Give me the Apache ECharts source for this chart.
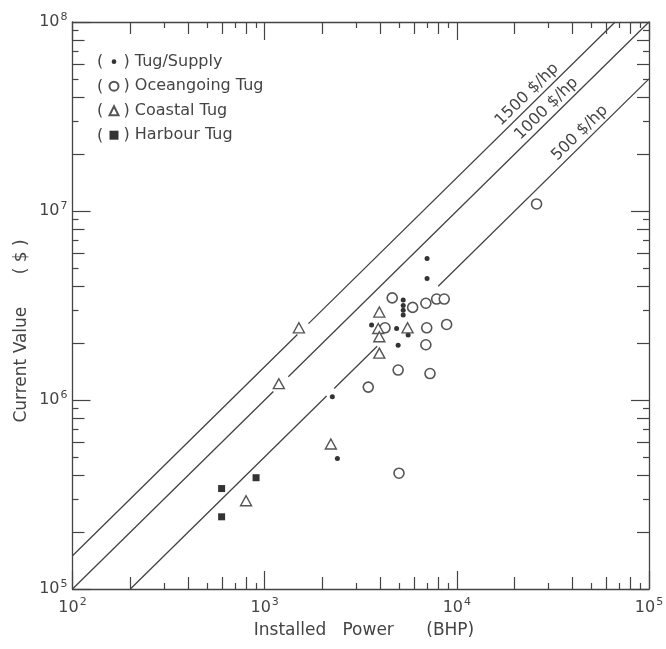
<!DOCTYPE html>
<html><head><meta charset="utf-8">
<script src="https://cdn.jsdelivr.net/npm/echarts@6/dist/echarts.min.js"></script>
<style>html,body{margin:0;padding:0;background:#fff}#c{width:666px;height:649px}</style>
</head><body><div id="c"></div>
<script>
// ---- data (Installed power BHP, Current value $) ----
const tugSupply = [[7000,5.6e6],[7000,4.4e6],[5260,3.38e6],[5260,3.16e6],[5260,2.98e6],[5260,2.82e6],[3600,2.49e6],[4860,2.39e6],[5580,2.21e6],[4950,1.95e6],[2250,1.04e6],[2390,4.9e5]];
const oceangoingTug = [[4610,3.47e6],[5890,3.09e6],[6900,3.25e6],[7850,3.42e6],[8600,3.42e6],[4230,2.41e6],[6970,2.41e6],[8850,2.51e6],[6900,1.96e6],[4950,1.44e6],[7250,1.38e6],[3460,1.17e6],[5000,4.1e5],[26000,1.09e7]];
const coastalTug = [[1507,2.41e6],[1185,1.22e6],[3950,2.92e6],[3900,2.39e6],[5540,2.41e6],[3950,2.16e6],[3950,1.77e6],[2210,5.85e5],[800,2.93e5]];
const harbourTug = [[902,3.88e5],[597,3.4e5],[597,2.41e5]];
const seriesNames = ['Tug/Supply','Oceangoing Tug','Coastal Tug','Harbour Tug'];
// reference lines ($/hp)
const rates = [1500,1000,500];
const rateLabels = ['1500 $/hp','1000 $/hp','500 $/hp'];
const rateLabelX = [23200,29300,43600];
const rateGaps = [[[1480,1690]],[[1110,1327]],[[2100,2300],[3850,8000]]];
// axis ticks
const xMin = 100, xMax = 100000, yMin = 1e5, yMax = 1e8;
const xMajor = [100,1000,10000,100000];
const xEven = [200,400,600,800,2000,4000,6000,8000,20000,40000,60000,80000];
const xOdd = [300,500,700,900,3000,5000,7000,9000,30000,50000,70000,90000];
const yMajor = [1e5,1e6,1e7,1e8];
const yEven = [2e5,4e5,6e5,8e5,2e6,4e6,6e6,8e6,2e7,4e7,6e7,8e7];
const yOdd = [3e5,5e5,7e5,9e5,3e6,5e6,7e6,9e6,3e7,5e7,7e7,9e7];

const FONT = 'DejaVu Sans';
const INK = '#444';
const supDigits = v => '{b|10}{s|' + Math.round(Math.log10(v)) + '}';

function mkAxis(dim, position, ticks, len, main, withLabels) {
  const isX = dim === 'x';
  return {
    type: 'log', logBase: 10, position: position,
    min: isX ? xMin : yMin, max: isX ? xMax : yMax,
    axisLine: { show: main, onZero: false, lineStyle: { color: INK, width: 1.3 } },
    axisTick: { show: true, inside: true, length: len, customValues: ticks, lineStyle: { color: INK, width: 1.2 } },
    axisLabel: withLabels ? {
      show: true, customValues: ticks, margin: isX ? 8 : 5,
      formatter: supDigits,
      rich: {
        b: { fontFamily: FONT, fontSize: 16, color: INK },
        s: { fontFamily: FONT, fontSize: 11, color: INK, padding: [0, 0, 10, 1] }
      }
    } : { show: false },
    splitLine: { show: false }, minorTick: { show: false }
  };
}

function rateLine(i) {
  const r = rates[i];
  const x0 = Math.max(xMin, yMin / r), x1 = Math.min(xMax, yMax / r);
  const pts = [[x0, r * x0]];
  rateGaps[i].forEach(g => { pts.push([g[0], r * g[0]]); pts.push([g[0], '-']); pts.push([g[1], r * g[1]]); });
  pts.push([x1, r * x1]);
  return {
    type: 'line', name: rateLabels[i], data: pts, showSymbol: false, symbol: 'none',
    connectNulls: false, silent: true, z: 1,
    lineStyle: { color: INK, width: 1.3 }
  };
}

const chart = echarts.init(document.getElementById('c'), null, { renderer: 'canvas' });
const option = {
  animation: false,
  backgroundColor: '#fff',
  textStyle: { fontFamily: FONT },
  grid: { left: 72.5, right: 17, top: 22, bottom: 60, outerBoundsMode: 'none' },
  xAxis: [
    mkAxis('x', 'bottom', xMajor, 18, true, true),
    mkAxis('x', 'bottom', xEven, 12, false, false),
    mkAxis('x', 'bottom', xOdd, 6, false, false),
    mkAxis('x', 'top', xMajor, 18, true, false),
    mkAxis('x', 'top', xEven, 12, false, false),
    mkAxis('x', 'top', xOdd, 6, false, false)
  ],
  yAxis: [
    mkAxis('y', 'left', yMajor, 18, true, true),
    mkAxis('y', 'left', yEven, 12, false, false),
    mkAxis('y', 'left', yOdd, 6, false, false),
    mkAxis('y', 'right', yMajor, 18, true, false),
    mkAxis('y', 'right', yEven, 12, false, false),
    mkAxis('y', 'right', yOdd, 6, false, false)
  ],
  legend: {
    data: [
      { name: seriesNames[0], icon: 'path://M0,0M10,10M7.6,5A2.6,2.6,0,1,1,2.4,5A2.6,2.6,0,1,1,7.6,5Z' },
      { name: seriesNames[1] }, { name: seriesNames[2] }, { name: seriesNames[3] }
    ],
    orient: 'vertical', left: 108.5, top: 53.7, padding: 0,
    itemWidth: 9, itemHeight: 9, itemGap: 8.5,
    textStyle: { fontFamily: FONT, fontSize: 16, color: INK, lineHeight: 16 },
    formatter: n => ') ' + n,
    selectedMode: false
  },
  series: [
    rateLine(0), rateLine(1), rateLine(2),
    { type: 'scatter', name: seriesNames[0], data: tugSupply, symbol: 'circle', symbolSize: 5, z: 3,
      itemStyle: { color: '#333', opacity: 1 } },
    { type: 'scatter', name: seriesNames[1], data: oceangoingTug, symbol: 'circle', symbolSize: 10, z: 3,
      itemStyle: { color: '#fff', borderColor: '#555', borderWidth: 1.6, opacity: 1 } },
    { type: 'scatter', name: seriesNames[2], data: coastalTug, symbol: 'triangle', symbolSize: [11, 10], z: 3,
      itemStyle: { color: '#fff', borderColor: '#555', borderWidth: 1.4, opacity: 1 } },
    { type: 'scatter', name: seriesNames[3], data: harbourTug, symbol: 'rect', symbolSize: 7, z: 3,
      itemStyle: { color: '#333', opacity: 1 } }
  ]
};
chart.setOption(option);

// text annotations placed through the chart's own coordinate system
const graphics = [];
rates.forEach((r, i) => {
  const p = chart.convertToPixel({ xAxisIndex: 0, yAxisIndex: 0 }, [rateLabelX[i], r * rateLabelX[i]]);
  graphics.push({ type: 'text', x: p[0], y: p[1] - 14, rotation: 44.5 * Math.PI / 180, z: 10,
    style: { text: rateLabels[i], fontFamily: FONT, fontSize: 16, fill: INK,
      align: 'center', verticalAlign: 'middle', textAlign: 'center', textVerticalAlign: 'middle' } });
});
[62, 86.5, 111, 135.5].forEach(y => {
  graphics.push({ type: 'text', x: 97, y: y, z: 10,
    style: { text: '(', fontFamily: FONT, fontSize: 16, fill: INK, align: 'left', verticalAlign: 'middle', textVerticalAlign: 'middle' } });
});
graphics.push({ type: 'text', x: 22, y: 331, rotation: Math.PI / 2, z: 10,
  style: { text: 'Current Value      ( $ )', fontFamily: FONT, fontSize: 17, fill: INK,
    align: 'center', verticalAlign: 'middle', textAlign: 'center', textVerticalAlign: 'middle' } });
graphics.push({ type: 'text', x: 364, y: 631, z: 10,
  style: { text: 'Installed   Power      (BHP)', fontFamily: FONT, fontSize: 17, fill: INK,
    align: 'center', verticalAlign: 'middle', textAlign: 'center', textVerticalAlign: 'middle' } });
chart.setOption({ graphic: graphics });
</script></body></html>
